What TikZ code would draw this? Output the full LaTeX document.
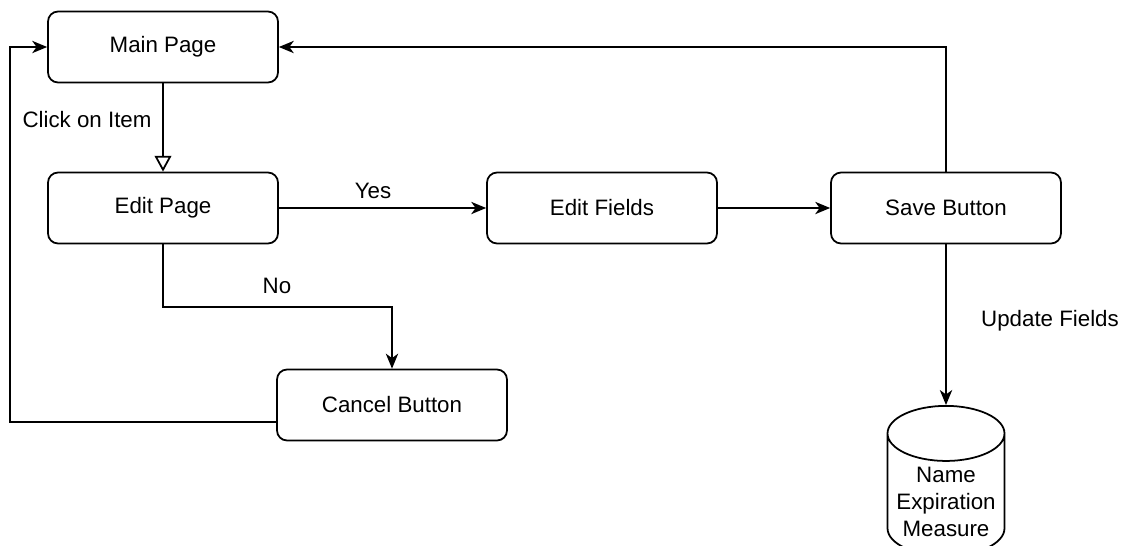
\documentclass[tikz,border=0pt]{standalone}
\usepackage{fontspec}
\setmainfont{Liberation Sans}
\usetikzlibrary{positioning,arrows.meta,shapes.geometric}

\begin{document}
\begin{tikzpicture}[x=0.02cm,y=-0.02cm,line width=1pt,
  font=\fontsize{12.7}{15.5}\selectfont,
  pnode/.style={draw,rounded corners=0.2cm,minimum width=4.6cm,minimum height=1.42cm},
  dbnode/.style={draw,cylinder,shape border rotate=90,aspect=4.7,
    minimum width=2.34cm,minimum height=3cm},
  arr/.style={-{Stealth[length=8.5pt,width=7pt,inset=2.5pt]}},
  oarr/.style={-{Triangle[open,length=9pt,width=9.5pt]}}]

 \useasboundingbox (0,0) rectangle (1126,545);

  % boxes of the flow
 \node[pnode] (main) at (163,47) {Main Page};
 \node[pnode] (edit) at (163,208) {Edit Page};
 \node[pnode] (fields) at (602,208) {Edit Fields};
 \node[pnode] (save) at (946,208) {Save Button};
 \node[pnode] (cancel) at (392,405) {Cancel Button};

 % database at the bottom right
 \node[dbnode,anchor=top] (db) at (946,405) {};
 \node[align=center] (dbtext) at (946,502) {Name\\Expiration\\Measure};

 \node (clicklbl) at (87,120) {Click on Item};
 \node (yeslbl) at (373,191) {Yes};
 \node (nolbl) at (277,286) {No};
 \node (updlbl) at (1050,321) {Update Fields};

 \coordinate (nobend) at (163,307);
 \coordinate (backbend) at (10,422);

 \draw[oarr] (main) -- (edit);
 \draw[arr] (edit) -- (fields);
 \draw[arr] (fields) -- (save);
 \draw[arr] (edit) -- (nobend) -| (cancel);

  % way back to the main page
 \draw[arr] (save) |- (main);
 \draw[arr] (cancel.west |- backbend) -- (backbend) |- (main);

 \draw[arr] (save) -- (db.top);

\end{tikzpicture}
\end{document}
